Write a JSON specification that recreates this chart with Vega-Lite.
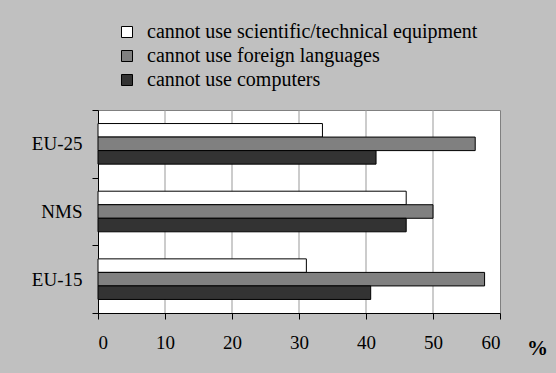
{
  "$schema": "https://vega.github.io/schema/vega-lite/v6.json",
  "width": 402,
  "height": 203,
  "autosize": "none",
  "padding": {"left": 98, "top": 110, "right": 56, "bottom": 60},
  "background": "#C0C0C0",
  "data": {
    "values": [
      {"region": "EU-25", "skill": "cannot use scientific/technical equipment", "value": 33.5},
      {"region": "EU-25", "skill": "cannot use foreign languages", "value": 56.3},
      {"region": "EU-25", "skill": "cannot use computers", "value": 41.5},
      {"region": "NMS", "skill": "cannot use scientific/technical equipment", "value": 46.0},
      {"region": "NMS", "skill": "cannot use foreign languages", "value": 50.0},
      {"region": "NMS", "skill": "cannot use computers", "value": 46.0},
      {"region": "EU-15", "skill": "cannot use scientific/technical equipment", "value": 31.1},
      {"region": "EU-15", "skill": "cannot use foreign languages", "value": 57.7},
      {"region": "EU-15", "skill": "cannot use computers", "value": 40.7}
    ]
  },
  "encoding": {
    "x": {
      "field": "value",
      "type": "quantitative",
      "scale": {"domain": [0, 60], "nice": false},
      "axis": {
        "values": [0, 10, 20, 30, 40, 50, 60],
        "title": "%",
        "titleFontSize": 21,
        "titleFontWeight": "bold",
        "titleColor": "black",
        "titleX": 439,
        "titleY": 41,
        "titleAlign": "center",
        "titleBaseline": "alphabetic",
        "titleAngle": 0,
        "grid": false,
        "domainColor": "black",
        "tickColor": "black",
        "tickSize": 6,
        "labelFontSize": 19,
        "labelColor": "black",
        "labelPadding": 14
      }
    }
  },
  "layer": [
    {
      "data": {"values": [{"value": 10}, {"value": 20}, {"value": 30}, {"value": 40}, {"value": 50}]},
      "mark": {"type": "rule", "color": "#999999", "strokeWidth": 1},
      "encoding": {}
    },
    {
      "mark": {"type": "bar", "stroke": "black", "strokeWidth": 1},
      "encoding": {
        "y": {
          "field": "region",
          "type": "nominal",
          "sort": ["EU-25", "NMS", "EU-15"],
          "scale": {"paddingInner": 0, "paddingOuter": 0},
          "axis": {
            "title": null,
            "tickBand": "extent",
            "tickSize": 6,
            "tickColor": "black",
            "domainColor": "black",
            "labelFontSize": 19,
            "labelColor": "black",
            "labelPadding": 10,
            "grid": false
          }
        },
        "yOffset": {
          "field": "skill",
          "type": "nominal",
          "sort": ["cannot use scientific/technical equipment", "cannot use foreign languages", "cannot use computers"],
          "scale": {"paddingInner": 0, "paddingOuter": 1.17}
        },
        "fill": {
          "field": "skill",
          "type": "nominal",
          "scale": {
            "domain": ["cannot use scientific/technical equipment", "cannot use foreign languages", "cannot use computers"],
            "range": ["#FFFFFF", "#808080", "#333333"]
          },
          "legend": {
            "title": null,
            "orient": "none",
            "legendX": 19,
            "legendY": -88,
            "padding": 0,
            "symbolType": "square",
            "symbolSize": 121,
            "symbolStrokeColor": "black",
            "symbolStrokeWidth": 1,
            "symbolOpacity": 1,
            "labelFontSize": 20,
            "labelColor": "black",
            "labelOffset": 10,
            "labelLimit": 500,
            "rowPadding": 4
          }
        }
      }
    }
  ],
  "config": {
    "font": "Liberation Serif",
    "axis": {"labelFont": "Liberation Serif", "titleFont": "Liberation Serif"},
    "legend": {"labelFont": "Liberation Serif", "labelFontSize": 20},
    "view": {"stroke": "#808080", "fill": "white"}
  }
}
